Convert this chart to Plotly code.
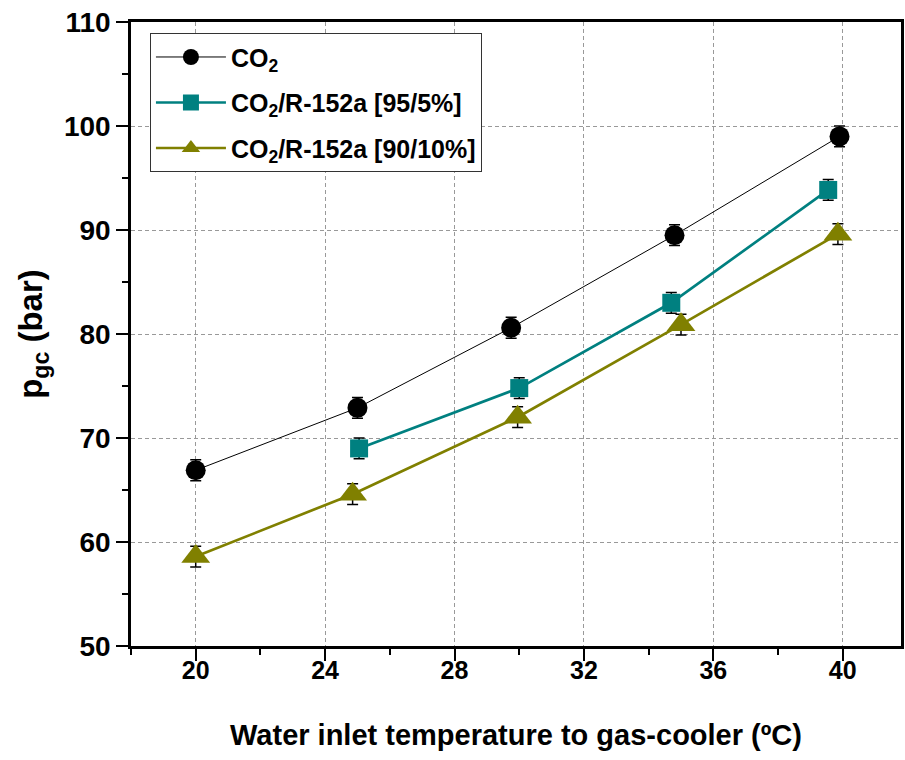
import plotly.graph_objects as go

# Water inlet temperature to gas-cooler (ºC) and gas-cooler pressure (bar)
t_co2 = [20.0, 25.0, 29.75, 34.8, 39.9]
p_co2 = [66.9, 72.9, 80.6, 89.5, 99.0]
e_co2 = [1.0, 1.0, 1.0, 1.0, 1.0]

t_95 = [25.05, 30.0, 34.7, 39.55]
p_95 = [69.0, 74.8, 83.0, 93.85]
e_95 = [1.0, 1.0, 1.0, 1.0]

t_90 = [20.0, 24.85, 29.95, 35.0, 39.85]
p_90 = [58.6, 64.6, 72.0, 80.9, 89.6]
e_90 = [1.0, 1.0, 1.0, 1.0, 1.0]

names = ["CO<sub>2</sub>", "CO<sub>2</sub>/R-152a [95/5%]", "CO<sub>2</sub>/R-152a [90/10%]"]

FONT = "Liberation Sans, Arial, sans-serif"

fig = go.Figure()


def err(vals):
    return dict(type="data", array=vals, visible=True, color="black", thickness=1.5, width=5.5)


fig.add_trace(go.Scatter(
    x=t_co2, y=p_co2, name=names[0], mode="lines+markers", legendgroup="a",
    line=dict(color="black", width=1),
    marker=dict(symbol="circle", size=20, color="black"),
    error_y=err(e_co2),
))
fig.add_trace(go.Scatter(
    x=t_95, y=p_95, name=names[1], mode="lines+markers", legendgroup="b",
    line=dict(color="#008080", width=2.7),
    marker=dict(symbol="square", size=18, color="#008080"),
    error_y=err(e_95),
))
fig.add_trace(go.Scatter(
    x=t_90, y=p_90, name=names[2], mode="lines+markers", legendgroup="c",
    line=dict(color="#808000", width=2.7),
    marker=dict(symbol="triangle-up", size=25, color="#808000"),
    error_y=err(e_90),
))

axis_common = dict(
    showline=True, linecolor="black", linewidth=2.5, mirror=True,
    ticks="outside", ticklen=12, tickwidth=2, tickcolor="black",
    showgrid=True, gridcolor="#999999", gridwidth=1, griddash="4px,3px",
    zeroline=False,
)

fig.update_xaxes(
    range=[18, 41.8], tick0=20, dtick=4,
    minor=dict(dtick=2, ticklen=6, tickwidth=2, tickcolor="black", ticks="outside", showgrid=False),
    tickfont=dict(family=FONT, size=25, color="black", weight="bold"),
    ticklabelstandoff=-12,
    title=dict(text="Water inlet temperature to gas-cooler (ºC)", standoff=42,
               font=dict(family=FONT, size=29, color="black", weight="bold")),
    **axis_common,
)
fig.update_yaxes(
    range=[50, 110], tick0=50, dtick=10,
    minor=dict(dtick=5, ticklen=6, tickwidth=2, tickcolor="black", ticks="outside", showgrid=False),
    tickfont=dict(family=FONT, size=28, color="black", weight="bold"),
    title=dict(text="p<sub>gc</sub> (bar)", standoff=12,
               font=dict(family=FONT, size=33, color="black", weight="bold")),
    **axis_common,
)

fig.update_layout(
    width=905, height=760,
    margin=dict(l=131, r=1, t=22, b=114),
    plot_bgcolor="white", paper_bgcolor="white",
    showlegend=True,
    legend=dict(
        x=0.0246, y=0.982, xanchor="left", yanchor="top",
        bgcolor="white", bordercolor="#333333", borderwidth=1,
        font=dict(family=FONT, size=25, color="black", weight="bold"),
        itemwidth=70, tracegroupgap=10,
    ),
)

fig.write_html("out.html")
